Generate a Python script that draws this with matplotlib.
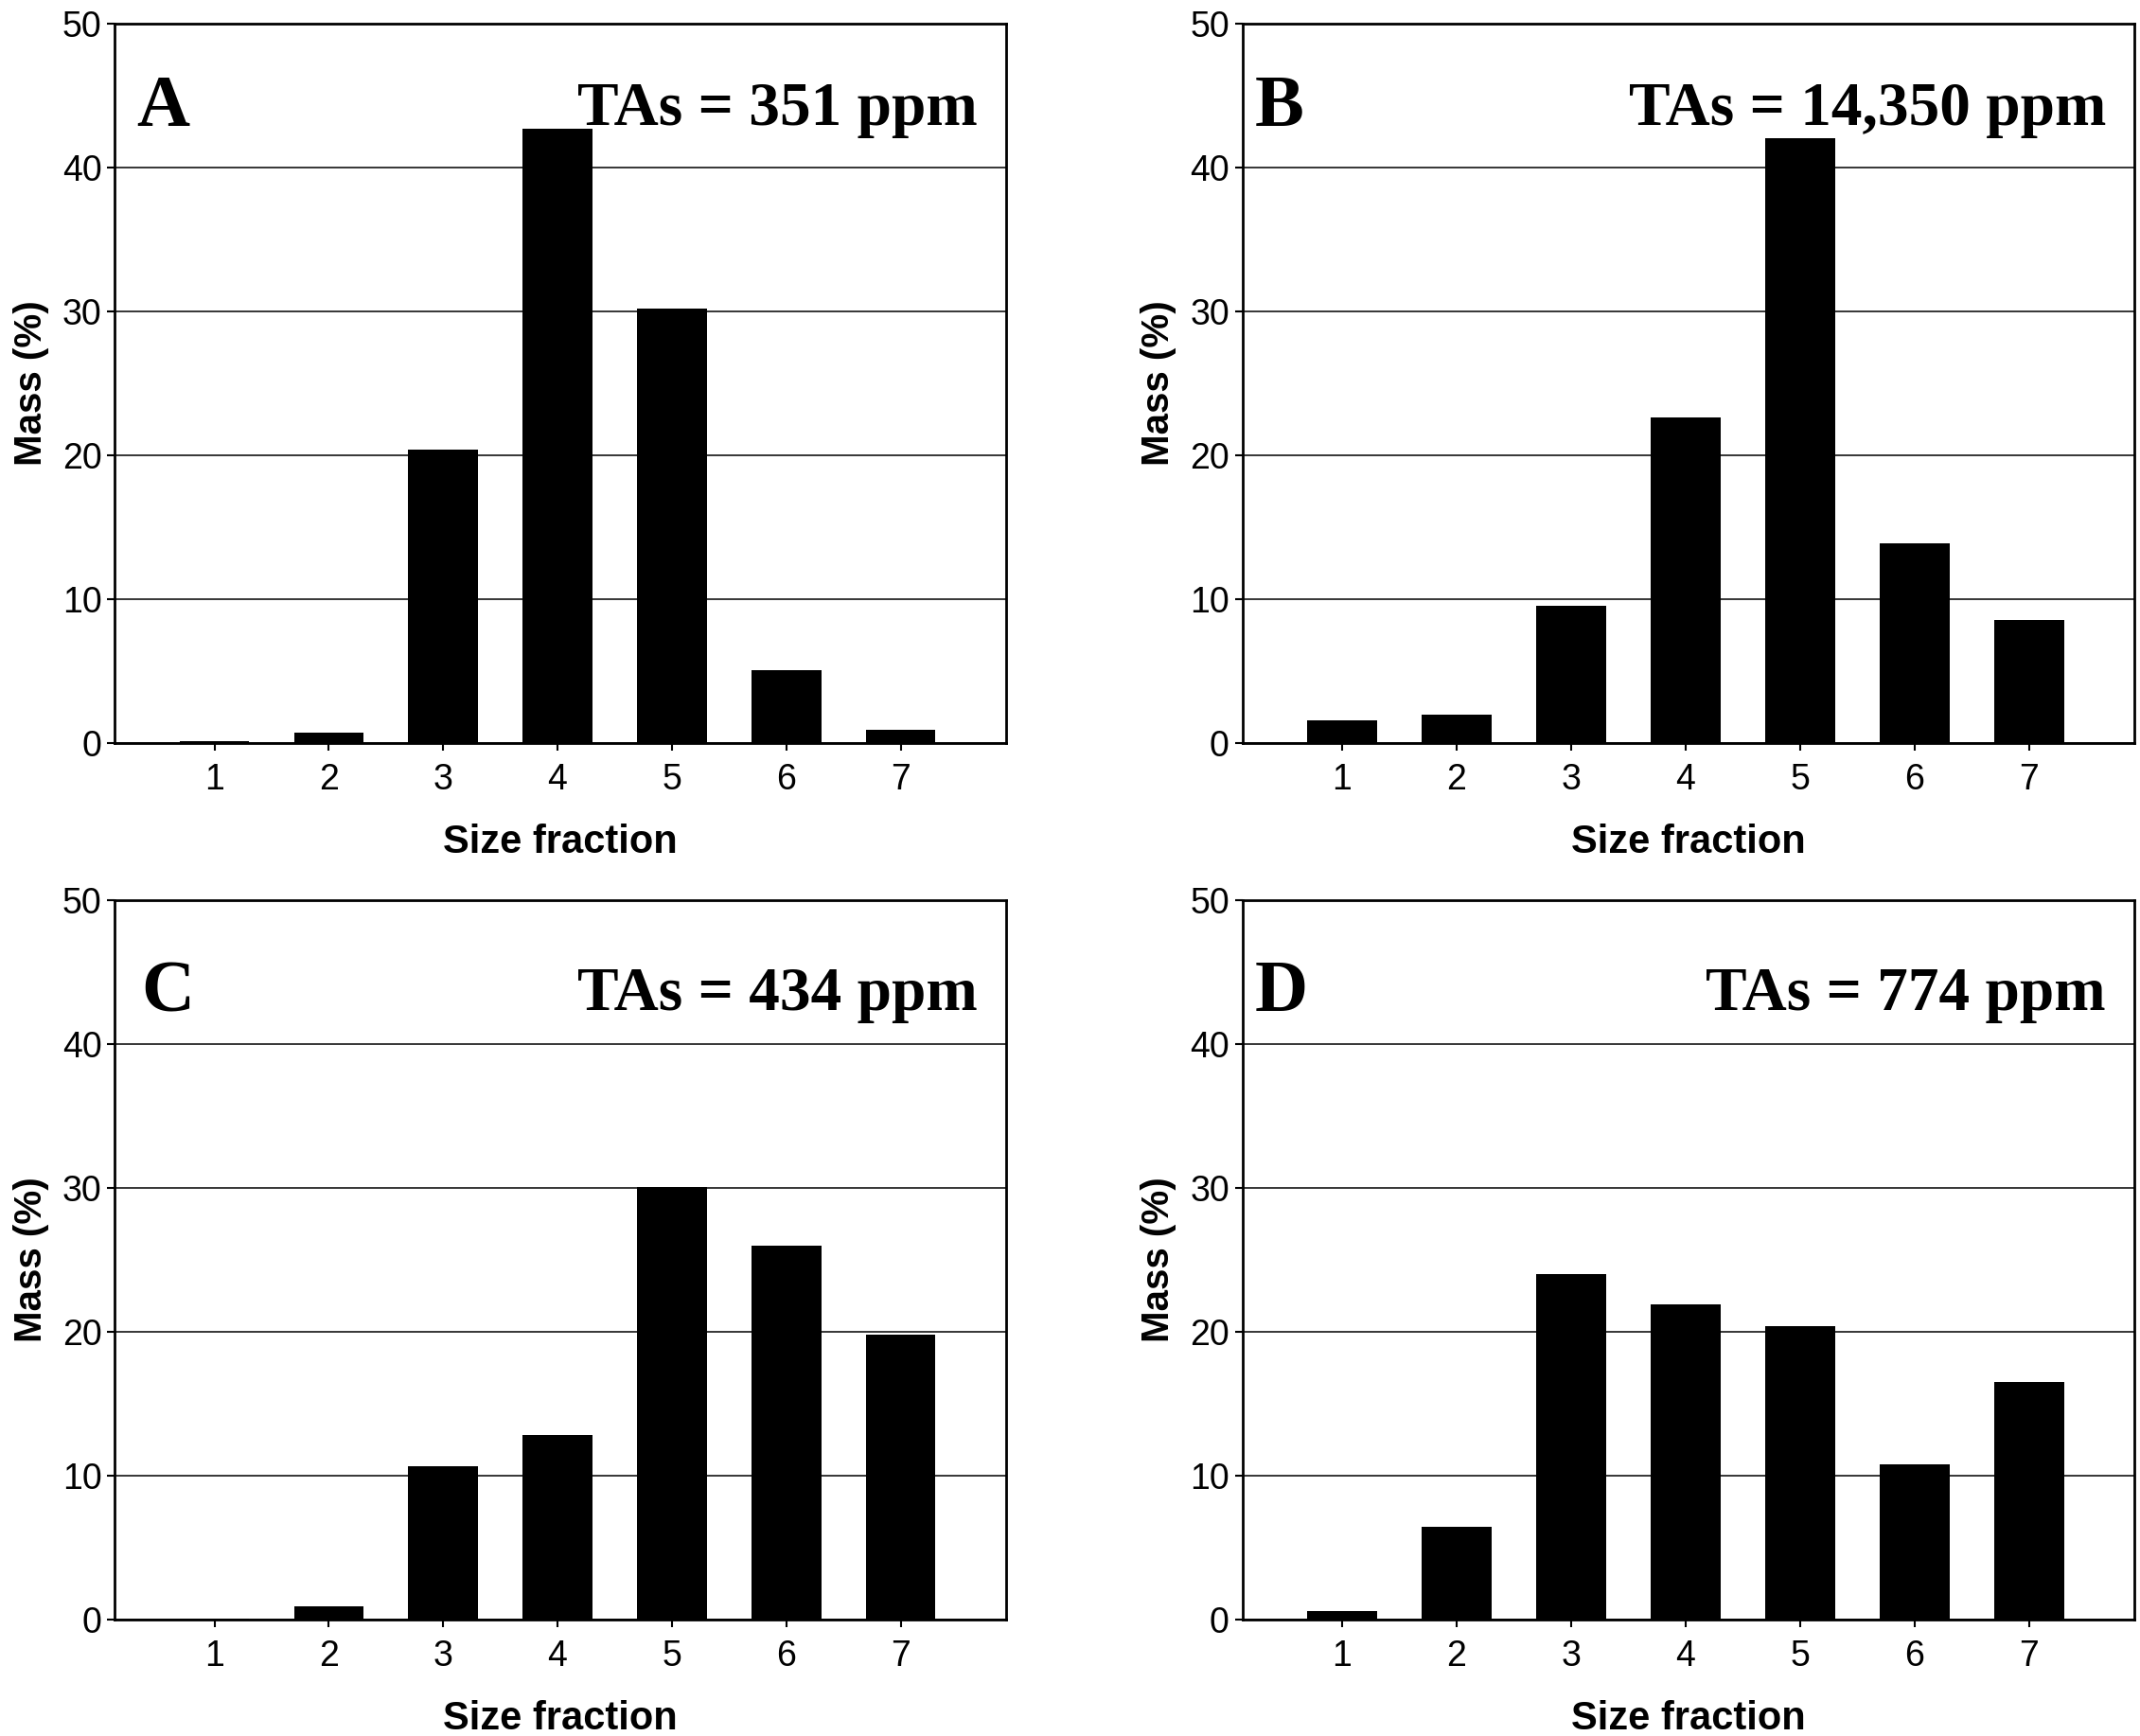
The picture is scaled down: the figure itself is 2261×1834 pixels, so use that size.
import numpy as np
import matplotlib
matplotlib.use("Agg")
import matplotlib.pyplot as plt

fractions = [1, 2, 3, 4, 5, 6, 7]
mass_a = [0.1, 0.73, 20.4, 42.7, 30.2, 5.05, 0.9]
mass_b = [1.55, 2.0, 9.5, 22.65, 42.0, 13.85, 8.55]
mass_c = [0.1, 0.96, 10.65, 12.8, 30.05, 26.0, 19.8]
mass_d = [0.58, 6.47, 24.0, 21.9, 20.4, 10.8, 16.5]
panel_letters = ["A", "B", "C", "D"]
tas_labels = ["TAs = 351 ppm", "TAs = 14,350 ppm", "TAs = 434 ppm", "TAs = 774 ppm"]

sans = ["Liberation Sans Narrow", "Liberation Sans", "DejaVu Sans"]
serif = ["Liberation Serif", "DejaVu Serif"]

fig = plt.figure(figsize=(22.61, 18.34), dpi=100)

positions = [
    [0.0537, 0.572, 0.4163, 0.4146],
    [0.5806, 0.572, 0.4168, 0.4146],
    [0.0537, 0.067, 0.4163, 0.4146],
    [0.5806, 0.067, 0.4168, 0.4146],
]
letter_x = [0.024, 0.014, 0.03, 0.014]
letter_y = [0.882, 0.882, 0.870, 0.870]

for i, data in enumerate([mass_a, mass_b, mass_c, mass_d]):
    ax = fig.add_axes(positions[i])
    ax.bar(fractions, data, width=0.61, color="black", zorder=3)
    ax.set_xlim(0.13, 7.92)
    ax.set_ylim(0, 50)
    ax.set_yticks([0, 10, 20, 30, 40, 50])
    ax.set_xticks(fractions)
    ax.yaxis.grid(True, color="black", linewidth=1.1, zorder=0)
    ax.set_axisbelow(True)
    for s in ax.spines.values():
        s.set_linewidth(2)
    ax.tick_params(axis="both", direction="out", length=6, width=1.5, labelsize=27, pad=4)
    ax.tick_params(axis="x", pad=9)
    for lab in ax.get_xticklabels() + ax.get_yticklabels():
        lab.set_family(sans)
    ax.set_xlabel("Size fraction", fontsize=30, fontweight="bold",
                  family=["Liberation Sans", "DejaVu Sans"], labelpad=20)
    ax.set_ylabel("Mass (%)", fontsize=29, fontweight="bold",
                  family=["Liberation Sans", "DejaVu Sans"], labelpad=10)
    ax.text(letter_x[i], letter_y[i], panel_letters[i], transform=ax.transAxes,
            fontsize=56, fontweight="bold", family=serif, va="center", ha="left")
    ax.text(0.968, letter_y[i] - 0.002, tas_labels[i], transform=ax.transAxes,
            fontsize=47, fontweight="bold", family=serif, va="center", ha="right")

fig.savefig("out.png", dpi=100)
